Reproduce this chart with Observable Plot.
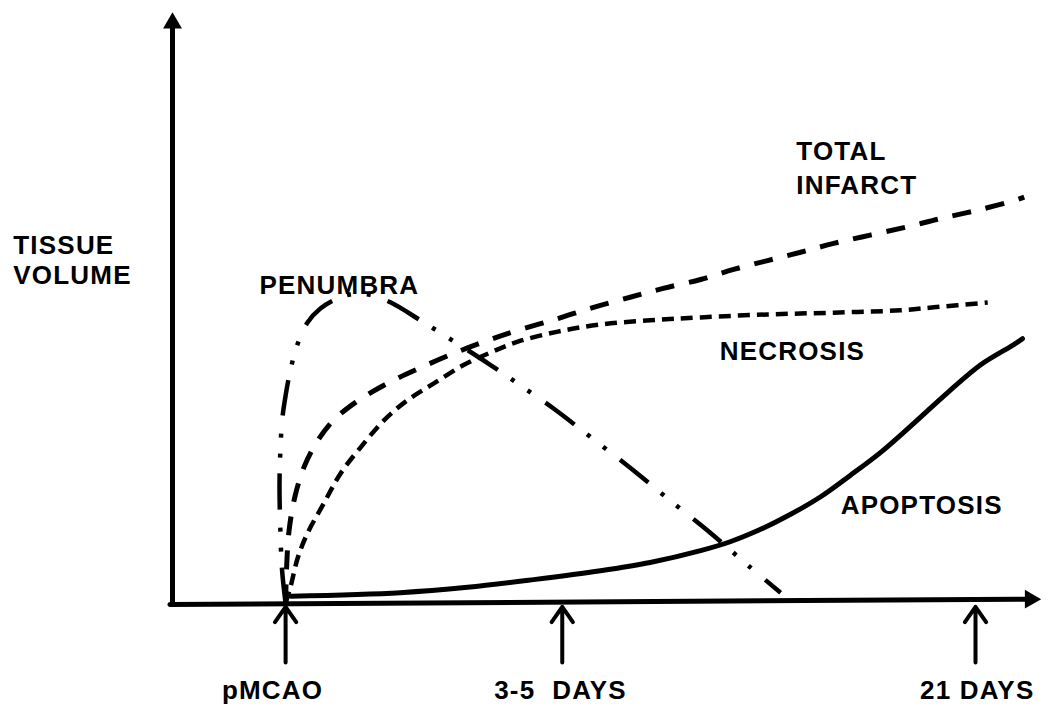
<!DOCTYPE html>
<html>
<head>
<meta charset="utf-8">
<script src="https://cdn.jsdelivr.net/npm/d3@7"></script>
<script src="https://cdn.jsdelivr.net/npm/@observablehq/plot@0.6"></script>
<style>
  html, body { margin: 0; padding: 0; background: #fff; }
  #chart svg { display: block; }
  #chart svg text { letter-spacing: 1.2px; }
</style>
</head>
<body>
<div id="chart"></div>
<script>
// Time runs on an arbitrary 0–100 scale (0 = y axis), volume on an arbitrary 0–100 scale.
const infarctT = [13.0, 13.1, 13.4, 14.1, 15.2, 16.7, 18.5, 21.0, 24.5, 28.5, 32.8, 36.6, 39.7, 44.3, 48.4, 52.6, 56.4, 60.7, 64.5, 68.4, 72.2, 76.0, 80.2, 84.5, 88.3, 92.5, 96.7, 97.9];
const infarctV = [0.2, 5.7, 12.5, 18.4, 23.5, 27.7, 31.1, 34.1, 37.2, 40.0, 42.7, 44.8, 46.3, 48.3, 50.2, 51.9, 53.4, 54.9, 56.6, 58.1, 59.5, 61.0, 62.4, 63.8, 65.2, 66.6, 68.2, 68.8];

const necrosisT = [13.0, 13.6, 14.4, 15.5, 17.4, 19.3, 21.6, 24.3, 27.0, 30.0, 33.4, 36.6, 39.7, 44.3, 49.2, 54.9, 60.7, 68.4, 76.0, 83.7, 87.5, 93.7];
const necrosisV = [0.2, 3.2, 7.9, 12.0, 17.1, 22.1, 26.5, 31.1, 34.5, 37.3, 40.4, 42.6, 44.4, 46.1, 47.3, 48.0, 48.5, 49.0, 49.3, 49.7, 50.2, 51.0];

const penumbraT = [13.0, 12.6, 12.4, 12.3, 12.4, 12.6, 13.0, 13.6, 14.4, 15.5, 17.0, 19.0, 21.0, 23.0, 25.1, 28.5, 32.5, 36.3, 40.0, 43.8, 49.0, 52.6, 57.6, 61.5, 66.4, 69.9];
const penumbraV = [0.2, 5.7, 12.5, 20.4, 26.0, 31.1, 35.3, 39.9, 44.1, 47.6, 50.0, 51.7, 52.5, 52.2, 51.0, 48.0, 44.3, 40.7, 37.0, 33.1, 27.2, 23.1, 17.1, 12.5, 6.3, 2.0];

const apoptosisT = [13.6, 26.2, 33.9, 41.5, 49.2, 54.9, 60.7, 64.1, 67.6, 71.0, 74.5, 77.9, 81.4, 85.2, 89.1, 92.9, 96.7, 97.7];
const apoptosisV = [1.4, 2.0, 2.9, 4.2, 5.7, 7.1, 9.1, 10.6, 12.7, 15.2, 18.2, 21.8, 25.7, 30.6, 35.8, 40.5, 43.9, 44.9];

// Time markers under the x axis
const markerLabels = ["pMCAO", "3-5\u00A0 DAYS", "21 DAYS"];
const markerTimes = [13.0, 44.8, 92.3];
const markerLabelTimes = [11.5, 44.6, 92.5];

// Curve labels and the y-axis title
const labelTexts = ["TOTAL\nINFARCT", "NECROSIS", "PENUMBRA", "APOPTOSIS", "TISSUE\nVOLUME"];
const labelT = [71.7, 62.9, 10.0, 76.8, -18.3];
const labelV = [74.0, 43.1, 54.2, 17.1, 58.3];
const labelLineHeights = [1.3, 1, 1, 1, 1.17];

const toRows = (ts, vs) => ts.map((t, i) => ({t, v: vs[i]}));
const infarct = toRows(infarctT, infarctV);
const necrosis = toRows(necrosisT, necrosisV);
const penumbra = toRows(penumbraT, penumbraV);
const apoptosis = toRows(apoptosisT, apoptosisV);
const markers = markerLabels.map((label, i) => ({label, t: markerTimes[i], lt: markerLabelTimes[i]}));
const labels = labelTexts.map((text, i) => ({text, t: labelT[i], v: labelV[i], lh: labelLineHeights[i]}));

const font = "'Liberation Sans', Arial, Helvetica, sans-serif";
const txt = {fontSize: 26, fontWeight: "bold", fill: "black", fontFamily: font};

const chart = Plot.plot({
  width: 1050,
  height: 709,
  marginLeft: 172,
  marginRight: 8,
  marginTop: 12,
  marginBottom: 105,
  x: {domain: [0, 100], axis: null},
  y: {domain: [0, 100], axis: null},
  style: {background: "white", fontFamily: font},
  marks: [
    // axes drawn as arrows
    Plot.line([{t: 0, v: 0}, {t: 0, v: 97.5}], {x: "t", y: "v", stroke: "black", strokeWidth: 5}),
    Plot.line([{t: -0.3, v: 0}, {t: 98.2, v: 0.9}], {x: "t", y: "v", stroke: "black", strokeWidth: 5}),
    Plot.dot([{t: 0, v: 98.2}], {x: "t", y: "v", symbol: "triangle", r: 7, fill: "black", stroke: null}),
    Plot.dot([{t: 98.6, v: 0.9}], {x: "t", y: "v", symbol: "triangle", r: 7, fill: "black", stroke: null, rotate: 90}),

    // curves
    Plot.line(infarct, {x: "t", y: "v", curve: "catmull-rom", stroke: "black", strokeWidth: 5, strokeDasharray: "19,15", strokeLinecap: "butt"}),
    Plot.line(necrosis, {x: "t", y: "v", curve: "catmull-rom", stroke: "black", strokeWidth: 4.5, strokeDasharray: "12,7", strokeLinecap: "butt"}),
    Plot.line(penumbra, {x: "t", y: "v", curve: "catmull-rom", stroke: "black", strokeWidth: 4.5, strokeDasharray: "36,16,4,16,4,18", strokeLinecap: "butt"}),
    Plot.line(apoptosis, {x: "t", y: "v", curve: "catmull-rom", stroke: "black", strokeWidth: 5}),

    // time markers
    Plot.arrow(markers, {x1: "t", x2: "t", y1: -9.8, y2: -0.4, stroke: "black", strokeWidth: 4, headLength: 20, headAngle: 70}),
    Plot.text(markers, {x: "lt", y: -14.6, text: "label", textAnchor: "middle", ...txt}),

    // labels
    Plot.text(labels.filter(d => d.lh !== 1.17), {x: "t", y: "v", text: "text", textAnchor: "start", lineHeight: 1.3, ...txt}),
    Plot.text(labels.filter(d => d.lh === 1.17), {x: "t", y: "v", text: "text", textAnchor: "start", lineHeight: 1.17, ...txt})
  ]
});
document.getElementById("chart").appendChild(chart);
</script>
</body>
</html>
